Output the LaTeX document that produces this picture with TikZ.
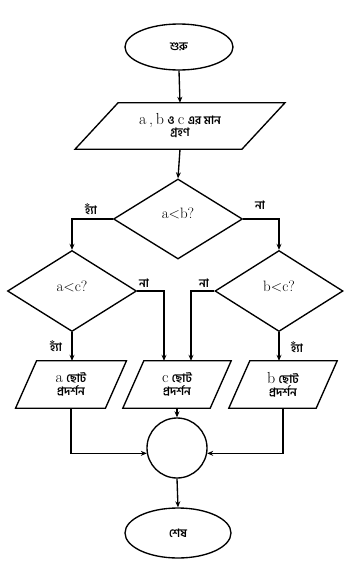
\documentclass[tikz,border=0pt]{standalone}
\usepackage{fontspec}
\newfontfamily\bn[Script=Bengali]{Hind Siliguri}
\usetikzlibrary{shapes.geometric,arrows.meta}
\tikzset{
  conn/.style={line width=1.35pt},
  arr/.style={conn,-{Stealth[length=6pt,width=5pt]}},
  term/.style={ellipse,draw,line width=1.35pt,inner sep=0pt},
  dec/.style={diamond,draw,line width=1.35pt,inner sep=0pt},
  io/.style={inner sep=0pt,align=center},
  bt/.style={font=\bn\bfseries\fontsize{11.5}{13}\selectfont},
  lat/.style={font=\fontsize{15}{16}\selectfont},
  lbl/.style={inner sep=0pt,font=\bn\bfseries\fontsize{11.5}{13}\selectfont}
}
\newcommand{\bnt}[1]{{\bn\bfseries\fontsize{11.5}{13}\selectfont #1}}
\newcommand{\lt}[1]{{\fontsize{16}{17}\selectfont #1}}
\begin{document}
\begin{tikzpicture}[x=1pt,y=-1pt]
\useasboundingbox (0,0) rectangle (355,571);
% nodes
\node[term,minimum width=108pt,minimum height=46pt,bt] (start) at (179,47) {শুরু};
\node[io,minimum width=166.5pt,minimum height=46pt] (inp) at (180,126)
  {\lt{a\,,\,b} \bnt{ও} \lt{c} \bnt{এর মান}\\[0pt]\bnt{গ্রহণ}};
\node[dec,minimum width=129pt,minimum height=80pt] (d1) at (178,219) {};
\node[lat] (t1) at (178,213) {a<b?};
\node[dec,minimum width=129pt,minimum height=81pt] (d2) at (72,291) {};
\node[lat] (t2) at (72,286) {a<c?};
\node[dec,minimum width=128pt,minimum height=81pt] (d3) at (279,291) {};
\node[lat] (t3) at (279,286) {b<c?};
\node[io,minimum width=89.5pt,minimum height=47pt] (abox) at (71,384.5)
  {\lt{a} \bnt{ছোট}\\[1pt]\bnt{প্রদর্শন}};
\node[io,minimum width=87pt,minimum height=47pt] (cbox) at (177,384.5)
  {\lt{c} \bnt{ছোট}\\[1pt]\bnt{প্রদর্শন}};
\node[io,minimum width=87pt,minimum height=47pt] (bbox) at (283,384.5)
  {\lt{b} \bnt{ছোট}\\[1pt]\bnt{প্রদর্শন}};
\node[circle,draw,line width=1.35pt,minimum size=60pt,inner sep=0pt] (circ) at (177,448) {};
\node[term,minimum width=106pt,minimum height=50pt,bt] (stop) at (178,533) {শেষ};
% parallelograms
\draw[conn,line join=miter] ([xshift=21.5pt]inp.north west) -- ([xshift=21.5pt]inp.north east)
  -- ([xshift=-21.5pt]inp.south east) -- ([xshift=-21.5pt]inp.south west) -- cycle;
\foreach \n in {abox,cbox,bbox}{
\draw[conn,line join=miter] ([xshift=10.5pt]\n.north west) -- ([xshift=10.5pt]\n.north east)
  -- ([xshift=-10.5pt]\n.south east) -- ([xshift=-10.5pt]\n.south west) -- cycle;
}
% labels
\node[lbl] (y1) at (91,209) {হ্যাঁ};
\node[lbl] (n1) at (260,205) {না};
\node[lbl] (n2) at (144,283) {না};
\node[lbl] (n3) at (204,283) {না};
\node[lbl] (y2) at (56,346) {হ্যাঁ};
\node[lbl] (y3) at (297,347) {হ্যাঁ};
% connectors
\draw[arr] (start.south) -- (inp.north);
\draw[arr] (inp.south) -- (d1.north);
\draw[arr] (d1.west) -| (d2.north);
\draw[arr] (d1.east) -| (d3.north);
\draw[arr] (d2.east) -| ([xshift=-13pt]cbox.north);
\draw[arr] (d3.west) -| ([xshift=14pt]cbox.north);
\draw[arr] (d2.south) -- (d2.south |- abox.north);
\draw[arr] (d3.south) -- (d3.south |- bbox.north);
\draw[arr] (abox.south) |- (circ.190);
\draw[arr] (bbox.south) |- (circ.-10);
\draw[arr] (cbox.south) -- (circ.north);
\draw[arr] (circ.south) -- (stop.north);
\end{tikzpicture}
\end{document}
